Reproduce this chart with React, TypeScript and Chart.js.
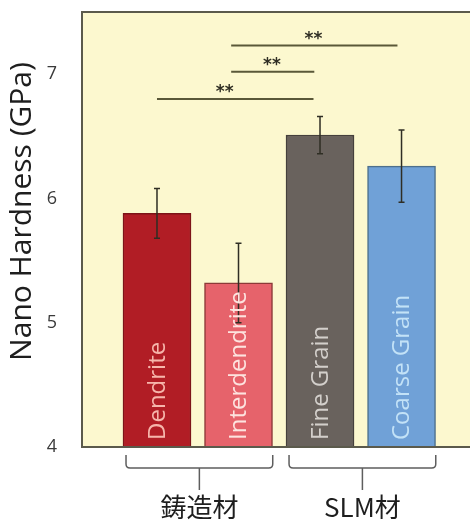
import React, { useEffect, useRef } from "react";
import { Chart, registerables } from "chart.js";

Chart.register(...registerables);

// ---- data ----
const categories = ["Dendrite", "Interdendrite", "Fine Grain", "Coarse Grain"];
const positions = [1, 2, 3, 4];
const hardness = [5.88, 5.32, 6.51, 6.26];
const errors = [0.2, 0.32, 0.15, 0.29];
const yTicks = [4, 5, 6, 7];

const groupNames = ["鋳造材", "SLM材"];
const groupFrom = [1, 3];
const groupTo = [2, 4];

const sigFrom = [1.0, 1.91, 1.91];
const sigTo = [2.92, 2.93, 3.95];
const sigLevel = [6.8, 7.02, 7.23];
const sigMark = ["**", "**", "**"];
const sigMarkX = [1.83, 2.41, 2.92];

const yTitle = "Nano Hardness (GPa)";

// ---- styles ----
const barColors = ["#b11d25", "#e6636b", "#69625d", "#70a1d7"];
const barBorders = ["#7d1418", "#8c3a38", "#45403c", "#4d6f8c"];
const labelColors = ["#f6b5ab", "#fde3df", "#d3cfcb", "#c3e2f7"];
const bgColor = "#fcf8cf";
const frameColor = "#5b5a4c";

const decor = {
  id: "decor",
  beforeDatasetsDraw(chart: any) {
    const { ctx, chartArea: a } = chart;
    ctx.save();
    ctx.fillStyle = bgColor;
    ctx.fillRect(a.left, a.top, a.right - a.left, a.bottom - a.top);
    ctx.restore();
  },
  afterDatasetsDraw(chart: any) {
    const { ctx, chartArea: a } = chart;
    const xs = chart.scales.x;
    const ys = chart.scales.y;
    ctx.save();
    // error bars
    ctx.strokeStyle = "#2f2e24";
    ctx.lineWidth = 1.5;
    positions.forEach((p, i) => {
      const x = xs.getPixelForValue(p);
      const yt = ys.getPixelForValue(hardness[i] + errors[i]);
      const yb = ys.getPixelForValue(hardness[i] - errors[i]);
      ctx.beginPath();
      ctx.moveTo(x, yt);
      ctx.lineTo(x, yb);
      ctx.moveTo(x - 3, yt);
      ctx.lineTo(x + 3, yt);
      ctx.moveTo(x - 3, yb);
      ctx.lineTo(x + 3, yb);
      ctx.stroke();
    });
    // labels inside bars
    ctx.font = "24px 'Open Sans'";
    ctx.textAlign = "left";
    ctx.textBaseline = "middle";
    positions.forEach((p, i) => {
      const x = xs.getPixelForValue(p);
      const y0 = ys.getPixelForValue(ys.min) - 7;
      ctx.save();
      ctx.translate(x, y0);
      ctx.rotate(-Math.PI / 2);
      ctx.fillStyle = labelColors[i];
      ctx.fillText(categories[i], 0, 1);
      ctx.restore();
    });
    // significance lines
    ctx.strokeStyle = "#5a5838";
    ctx.lineWidth = 2;
    ctx.fillStyle = "#2f2e24";
    ctx.font = "bold 17px 'DejaVu Sans'";
    ctx.textAlign = "center";
    ctx.textBaseline = "middle";
    sigLevel.forEach((lv, i) => {
      const y = ys.getPixelForValue(lv);
      ctx.beginPath();
      ctx.moveTo(xs.getPixelForValue(sigFrom[i]), y);
      ctx.lineTo(xs.getPixelForValue(sigTo[i]), y);
      ctx.stroke();
      ctx.fillText(sigMark[i], xs.getPixelForValue(sigMarkX[i]), y - 6);
    });
    // frame
    ctx.strokeStyle = frameColor;
    ctx.lineWidth = 2;
    ctx.beginPath();
    ctx.moveTo(a.right, a.top);
    ctx.lineTo(a.left, a.top);
    ctx.lineTo(a.left, a.bottom);
    ctx.lineTo(a.right, a.bottom);
    ctx.stroke();
    ctx.restore();
  },
  afterDraw(chart: any) {
    const { ctx, chartArea: a } = chart;
    const xs = chart.scales.x;
    ctx.save();
    // brackets
    ctx.strokeStyle = "#5e5e5e";
    ctx.lineWidth = 1.5;
    const yTop = a.bottom + 8;
    const yMid = a.bottom + 21;
    const yStem = a.bottom + 43;
    groupNames.forEach((g, i) => {
      const x1 = xs.getPixelForValue(groupFrom[i] - 0.38);
      const x2 = xs.getPixelForValue(groupTo[i] + 0.42);
      const xc = (x1 + x2) / 2;
      const r = 4;
      ctx.beginPath();
      ctx.moveTo(x1, yTop);
      ctx.lineTo(x1, yMid - r);
      ctx.quadraticCurveTo(x1, yMid, x1 + r, yMid);
      ctx.lineTo(x2 - r, yMid);
      ctx.quadraticCurveTo(x2, yMid, x2, yMid - r);
      ctx.lineTo(x2, yTop);
      ctx.moveTo(xc, yMid);
      ctx.lineTo(xc, yStem);
      ctx.stroke();
      ctx.fillStyle = "#1e1e1e";
      ctx.font = "26px 'Noto Sans CJK JP'";
      ctx.textAlign = "center";
      ctx.textBaseline = "middle";
      ctx.fillText(g, xc, a.bottom + 60);
    });
    // y title
    ctx.translate(22, (a.top + a.bottom) / 2 - 18);
    ctx.rotate(-Math.PI / 2);
    ctx.fillStyle = "#1e1e1e";
    ctx.font = "30px 'Open Sans'";
    ctx.textAlign = "center";
    ctx.textBaseline = "middle";
    ctx.fillText(yTitle, 0, 0);
    ctx.restore();
  },
};

export default function App() {
  const ref = useRef<HTMLCanvasElement>(null);
  useEffect(() => {
    if (!ref.current) return;
    const chart = new Chart(ref.current, {
      type: "bar",
      data: {
        datasets: [
          {
            data: positions.map((p, i) => ({ x: p, y: hardness[i] })),
            backgroundColor: barColors,
            borderColor: barBorders,
            borderWidth: 1.5,
            borderSkipped: false,
            barThickness: 68,
          },
        ],
      },
      options: {
        responsive: false,
        animation: false,
        layout: { padding: { top: 12, bottom: 73, right: 4, left: 0 } },
        plugins: { legend: { display: false }, tooltip: { enabled: false } },
        scales: {
          x: {
            type: "linear",
            min: 0.08,
            max: 4.84,
            offset: false,
            display: false,
            grid: { offset: false },
          },
          y: {
            type: "linear",
            min: 4,
            max: 7.5,
            grid: { display: false, drawTicks: false },
            border: { display: false },
            afterBuildTicks: (s: any) => {
              s.ticks = yTicks.map((v) => ({ value: v }));
            },
            afterFit: (s: any) => {
              s.width = 82;
              s.paddingTop = 0;
              s.paddingBottom = 0;
            },
            ticks: {
              padding: 25,
              color: "#3a3a3a",
              font: { family: "'Open Sans'", size: 18 },
            },
          },
        },
      },
      plugins: [decor],
    } as any);
    return () => chart.destroy();
  }, []);
  return (
    <div style={{ position: "absolute", left: 0, top: 0, width: 474, height: 520 }}>
      <canvas ref={ref} width={474} height={520} style={{ display: "block" }} />
    </div>
  );
}
